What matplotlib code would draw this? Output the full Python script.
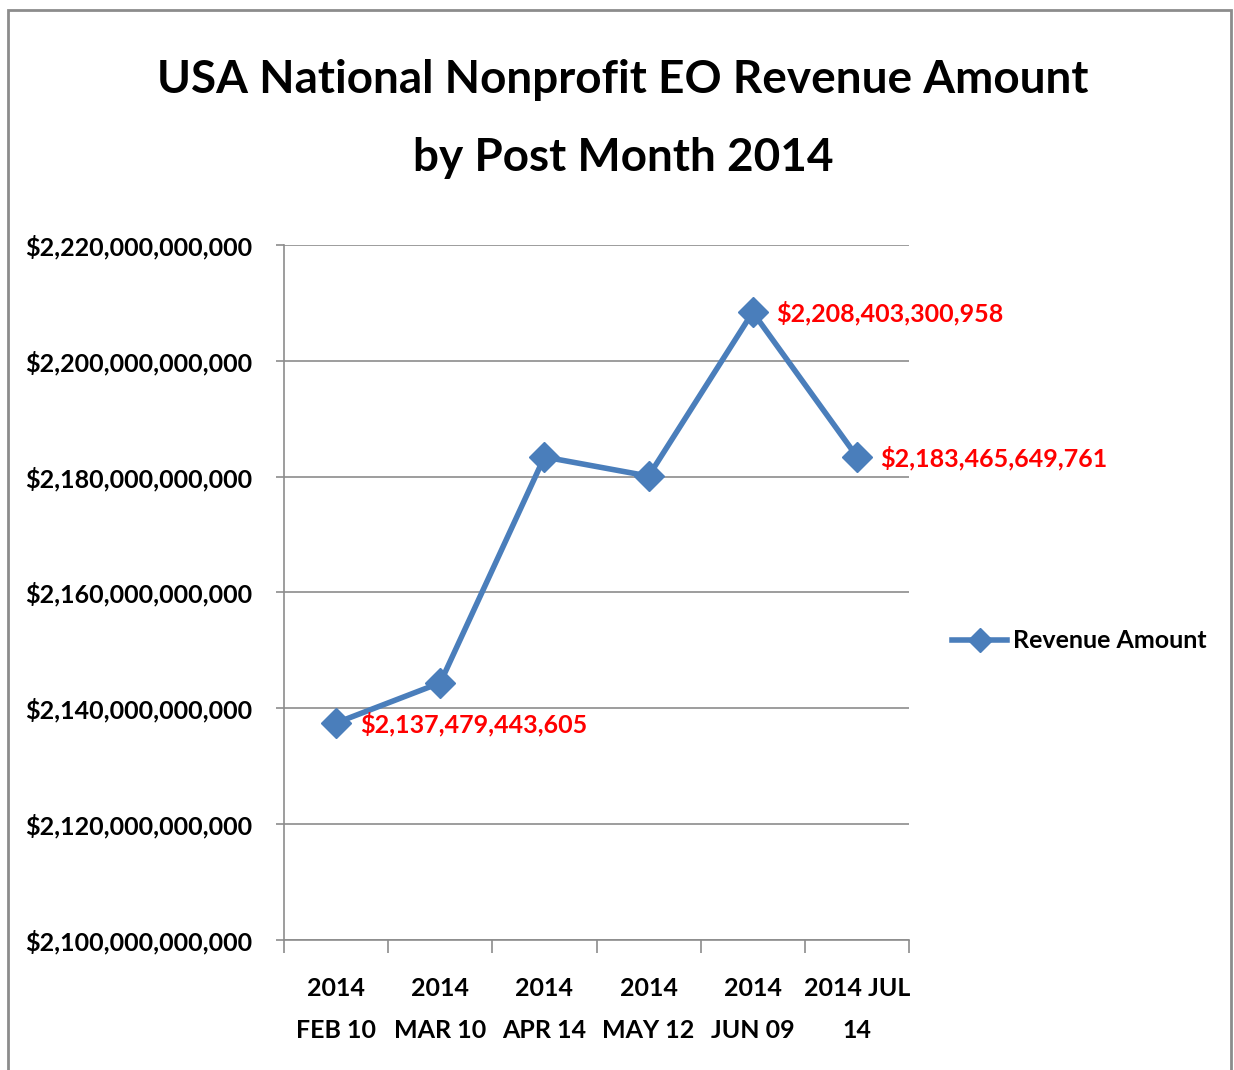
import matplotlib
matplotlib.use('Agg')
import matplotlib.pyplot as plt
from matplotlib.patches import Rectangle
from matplotlib.ticker import FuncFormatter, FixedLocator

plt.rcParams['font.family'] = ['Lato', 'DejaVu Sans']
plt.rcParams['font.weight'] = 'bold'

# data
post_months = ['2014\nFEB 10', '2014\nMAR 10', '2014\nAPR 14', '2014\nMAY 12', '2014\nJUN 09', '2014 JUL\n14']
revenue = [2137479443605, 2144400000000, 2183400000000, 2180100000000, 2208403300958, 2183465649761]
labelled = [0, 4, 5]
y_ticks = [2.10e12, 2.12e12, 2.14e12, 2.16e12, 2.18e12, 2.20e12, 2.22e12]

blue = '#4A7EBB'
grid_grey = '#8C8C8C'
fs = 18

fig = plt.figure(figsize=(12.34, 10.70), dpi=100)
ax = fig.add_axes([284/1234, 1-940/1070, (909-284)/1234, (940-245)/1070])

x = list(range(len(post_months)))
ax.plot(x, revenue, color=blue, linewidth=4, marker='D', markersize=15.5,
        label='Revenue Amount', zorder=3)

for i in labelled:
    ax.annotate('${:,}'.format(revenue[i]), (x[i], revenue[i]),
                xytext=(17, -1), textcoords='offset points',
                ha='left', va='center', color='red', fontsize=fs, fontweight='bold')

ax.set_xlim(-0.5, len(post_months) - 0.5)
ax.set_ylim(y_ticks[0], y_ticks[-1])
ax.set_yticks(y_ticks)
ax.yaxis.set_major_formatter(FuncFormatter(lambda v, p: '${:,.0f}'.format(v)))
ax.tick_params(axis='y', length=6, width=1.2, color=grid_grey, pad=17, labelsize=fs)

ax.set_xticks(x)
ax.set_xticklabels(post_months, fontsize=fs, linespacing=2.0)
ax.xaxis.set_minor_locator(FixedLocator([i - 0.5 for i in range(len(post_months) + 1)]))
ax.tick_params(axis='x', which='major', length=0, pad=27)
ax.tick_params(axis='x', which='minor', length=9, width=1.2, color=grid_grey)

ax.grid(axis='y', color=grid_grey, linewidth=1.2)
ax.set_axisbelow(True)
for s in ['top', 'right']:
    ax.spines[s].set_visible(False)
for s in ['left', 'bottom']:
    ax.spines[s].set_color(grid_grey)
    ax.spines[s].set_linewidth(1.2)

fig.text(623/1234, 1-119/1070, 'USA National Nonprofit EO Revenue Amount\nby Post Month 2014',
         ha='center', va='center', fontsize=33, fontweight='bold', linespacing=2.05)

ax.legend(loc='center left', bbox_to_anchor=(952/1234, 1-641/1070),
          bbox_transform=fig.transFigure, frameon=False, borderpad=0, borderaxespad=0,
          handlelength=2.2, handletextpad=0.25, markerscale=0.8, fontsize=fs)

# chart border
fig.patches.append(Rectangle((8/1234, -0.02), (1231-8)/1234, 1.02-10/1070,
                             transform=fig.transFigure, fill=False,
                             edgecolor='#8C8C8C', linewidth=2))

plt.savefig('out.png', dpi=100)
